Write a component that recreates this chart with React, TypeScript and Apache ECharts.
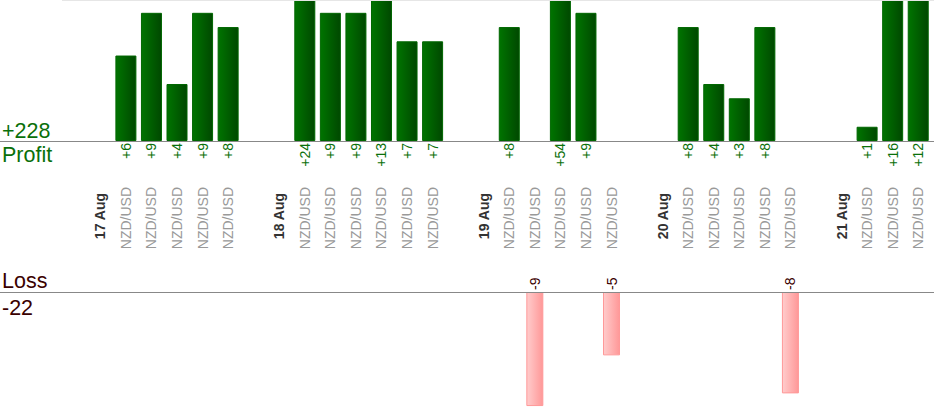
import React, { useEffect, useRef } from "react";
import * as echarts from "echarts";

const categories: string[] = [
  "",
  "17 Aug", "NZD/USD", "NZD/USD", "NZD/USD", "NZD/USD", "NZD/USD",
  "",
  "18 Aug", "NZD/USD", "NZD/USD", "NZD/USD", "NZD/USD", "NZD/USD", "NZD/USD",
  "",
  "19 Aug", "NZD/USD", "NZD/USD", "NZD/USD", "NZD/USD", "NZD/USD",
  "",
  "20 Aug", "NZD/USD", "NZD/USD", "NZD/USD", "NZD/USD", "NZD/USD",
  "",
  "21 Aug", "NZD/USD", "NZD/USD", "NZD/USD",
];

const profit: (number | null)[] = [
  null,
  null, 6, 9, 4, 9, 8,
  null,
  null, 24, 9, 9, 13, 7, 7,
  null,
  null, 8, null, 54, 9, null,
  null,
  null, 8, 4, 3, 8, null,
  null,
  null, 1, 16, 12,
];

const loss: (number | null)[] = [
  null,
  null, null, null, null, null, null,
  null,
  null, null, null, null, null, null, null,
  null,
  null, null, -9, null, null, -5,
  null,
  null, null, null, null, null, -8,
  null,
  null, null, null, null,
];

const FONT = "'Liberation Sans', Arial, Helvetica, sans-serif";
const GREEN = "#0a700a";
const MAROON = "#3a0000";

export default function App() {
  const ref = useRef<HTMLDivElement>(null);

  useEffect(() => {
    if (!ref.current) return;
    const chart = echarts.init(ref.current, null, { renderer: "svg" });

    const totalProfit = profit.reduce((s: number, v) => s + (v || 0), 0);
    const totalLoss = loss.reduce((s: number, v) => s + (v || 0), 0);

    const isDate = (v: string) => /Aug/.test(v);

    chart.setOption({
      animation: false,
      textStyle: { fontFamily: FONT },
      grid: [
        { left: 62, right: 3, top: 0, height: 141, outerBoundsMode: "none", containLabel: false },
        { left: 62, right: 3, top: 292, height: 128, outerBoundsMode: "none", containLabel: false },
      ],
      xAxis: [
        {
          type: "category",
          gridIndex: 0,
          position: "bottom",
          data: categories,
          axisLine: { show: false },
          axisTick: { show: false },
          axisLabel: {
            interval: 0,
            rotate: 90,
            margin: 46,
            color: "#999",
            fontSize: 14,
            fontFamily: FONT,
            formatter: (v: string) => (isDate(v) ? "" : v),
          },
        },
        {
          type: "category",
          gridIndex: 1,
          position: "bottom",
          data: categories,
          axisLine: { show: false },
          axisTick: { show: false },
          axisLabel: { show: false },
        },
        {
          type: "category",
          gridIndex: 0,
          position: "bottom",
          data: categories,
          axisLine: { show: false },
          axisTick: { show: false },
          axisLabel: {
            interval: 0,
            rotate: 90,
            margin: 52,
            color: "#333",
            fontWeight: "bold",
            fontSize: 14,
            fontFamily: FONT,
            formatter: (v: string) => (isDate(v) ? v : ""),
          },
        },
      ],
      yAxis: [
        {
          type: "value",
          gridIndex: 0,
          min: 0,
          max: 9.9,
          show: false,
          splitLine: { show: false },
        },
        {
          type: "value",
          gridIndex: 1,
          min: -10.1,
          max: 0,
          show: false,
          splitLine: { show: false },
        },
      ],
      series: [
        {
          type: "bar",
          xAxisIndex: 0,
          yAxisIndex: 0,
          data: profit,
          barWidth: 21,
          clip: true,
          itemStyle: {
            color: new echarts.graphic.LinearGradient(0, 0, 1, 0, [
              { offset: 0, color: "#007400" },
              { offset: 1, color: "#004800" },
            ]),
            borderColor: "#006600",
            borderWidth: 1,
          },
          label: {
            show: true,
            position: "bottom",
            distance: 2,
            rotate: 90,
            align: "right",
            verticalAlign: "middle",
            color: GREEN,
            fontSize: 14,
            fontFamily: FONT,
            formatter: (p: any) => "+" + p.value,
          },
        },
        {
          type: "bar",
          xAxisIndex: 1,
          yAxisIndex: 1,
          data: loss,
          barWidth: 17,
          clip: true,
          itemStyle: {
            color: new echarts.graphic.LinearGradient(0, 0, 1, 0, [
              { offset: 0, color: "#ffcccc" },
              { offset: 1, color: "#ff9898" },
            ]),
            borderColor: "#ff9999",
            borderWidth: 1,
          },
          label: {
            show: true,
            position: "top",
            distance: 2,
            rotate: 90,
            align: "left",
            verticalAlign: "middle",
            color: MAROON,
            fontSize: 14,
            fontFamily: FONT,
            formatter: (p: any) => String(p.value),
          },
        },
      ],
      graphic: [
        {
          type: "line",
          shape: { x1: 62, y1: 0.5, x2: 934, y2: 0.5 },
          style: { stroke: "#e6e6e6", lineWidth: 1 },
          z: 10,
        },
        {
          type: "line",
          shape: { x1: 0, y1: 141.5, x2: 934, y2: 141.5 },
          style: { stroke: "#888", lineWidth: 1 },
          z: 10,
        },
        {
          type: "line",
          shape: { x1: 0, y1: 292.5, x2: 934, y2: 292.5 },
          style: { stroke: "#888", lineWidth: 1 },
          z: 10,
        },
        {
          type: "text",
          x: 2,
          y: 130.5,
          style: {
            text: "+" + totalProfit,
            fill: GREEN,
            font: `21.5px ${FONT}`,
            verticalAlign: "middle",
          },
        },
        {
          type: "text",
          x: 2,
          y: 154.5,
          style: {
            text: "Profit",
            fill: GREEN,
            font: `21.5px ${FONT}`,
            verticalAlign: "middle",
          },
        },
        {
          type: "text",
          x: 2,
          y: 280.5,
          style: {
            text: "Loss",
            fill: MAROON,
            font: `21.5px ${FONT}`,
            verticalAlign: "middle",
          },
        },
        {
          type: "text",
          x: 2,
          y: 307.5,
          style: {
            text: String(totalLoss),
            fill: MAROON,
            font: `21.5px ${FONT}`,
            verticalAlign: "middle",
          },
        },
      ],
    });

    return () => chart.dispose();
  }, []);

  return (
    <div
      ref={ref}
      style={{ position: "absolute", left: 0, top: 0, width: 934, height: 420 }}
    />
  );
}
